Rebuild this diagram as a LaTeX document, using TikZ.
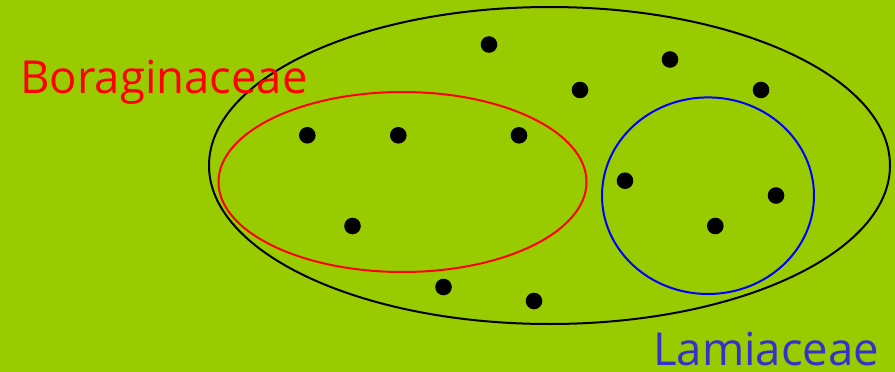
\documentclass[tikz,border=0pt]{standalone}
\usepackage{fontspec}
\setmainfont{Open Sans}
\definecolor{bg}{HTML}{99CC00}
\definecolor{lamblue}{HTML}{3333CC}
\tikzset{
  dot/.style={circle,fill=black,inner sep=0pt,minimum size=16.6pt},
  label/.style={inner sep=0pt,anchor=base west,font=\fontsize{45.5}{54}\selectfont}
}
\begin{document}
\begin{tikzpicture}[x=1pt,y=-1pt]
\fill[bg] (0,0) rectangle (895,372);
\useasboundingbox (0,0) rectangle (895,372);
\draw[black,line width=2pt] (549.5,165.5) ellipse [x radius=340.5,y radius=158.5];
\draw[red,line width=2pt] (402.5,182) ellipse [x radius=184,y radius=90];
\draw[blue,line width=2pt] (708,195.7) ellipse [x radius=106,y radius=98.3];
\foreach \n/\x/\y in {a/489/44.5,b/670/59.5,c/580/90,d/761/90,e/307.3/135.3,f/398.3/135.3,g/519/135.3,h/625/180.7,i/776/195.5,j/352.5/226,k/715.3/226,l/443.5/287,m/534/301}
  \node[dot] (\n) at (\x,\y) {};
\node[label,text=red] (bor) at (20,93.3) {Boraginaceae};
\node[label,text=lamblue] (lam) at (653,365) {Lamiaceae};
\end{tikzpicture}
\end{document}
